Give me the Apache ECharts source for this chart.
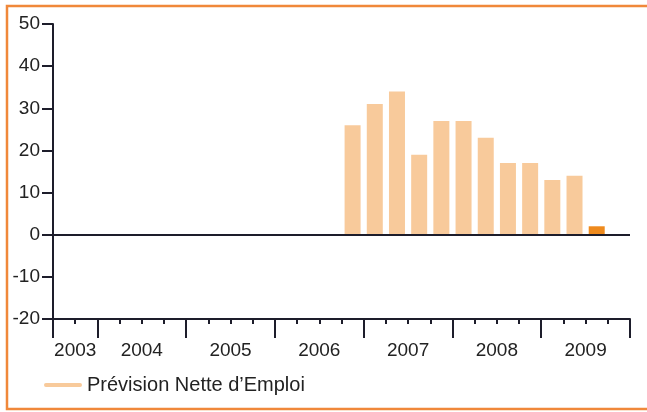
<!DOCTYPE html>
<html>
<head>
<meta charset="utf-8">
<script src="https://cdn.jsdelivr.net/npm/echarts@6/dist/echarts.min.js"></script>
<style>
  html, body { margin: 0; padding: 0; background: #fff; }
  #chart { width: 647px; height: 412px; }
</style>
</head>
<body>
<div id="chart"></div>
<script>
// quarters from 2003 T3 to 2009 T4
const quarters = [
  '2003T3', '2003T4',
  '2004T1', '2004T2', '2004T3', '2004T4',
  '2005T1', '2005T2', '2005T3', '2005T4',
  '2006T1', '2006T2', '2006T3', '2006T4',
  '2007T1', '2007T2', '2007T3', '2007T4',
  '2008T1', '2008T2', '2008T3', '2008T4',
  '2009T1', '2009T2', '2009T3', '2009T4'
];
// Prévision Nette d'Emploi (%)
const netValues = [
  null, null,
  null, null, null, null,
  null, null, null, null,
  null, null, null, 26,
  31, 34, 19, 27,
  27, 23, 17, 17,
  13, 14, null, null
];
// latest quarter, highlighted
const latestValues = [
  null, null,
  null, null, null, null,
  null, null, null, null,
  null, null, null, null,
  null, null, null, null,
  null, null, null, null,
  null, null, 2, null
];
const years = ['2003', '2004', '2005', '2006', '2007', '2008', '2009'];
const yearBounds = [0, 2, 6, 10, 14, 18, 22, 26]; // quarter index where each year starts
const yearCenters = [1, 4, 8, 12, 16, 20, 24];

const ink = '#1d1d2b';
const textColor = '#222';
const font = 'Liberation Sans';
const seriesName = 'Prévision Nette d’Emploi';

const chart = echarts.init(document.getElementById('chart'));
chart.setOption({
  animation: false,
  textStyle: { fontFamily: font },
  grid: { left: 53, right: 17, top: 24, bottom: 93 },
  legend: {
    data: [seriesName],
    left: 39,
    top: 370,
    icon: 'path://M2,0 L38,0 A2,2 0 0 1 38,4 L2,4 A2,2 0 0 1 2,0 Z',
    itemWidth: 38,
    itemHeight: 4,
    textStyle: { fontSize: 20, color: textColor, fontFamily: font, padding: [0, 0, 0, 0] }
  },
  xAxis: [
    {
      type: 'category',
      data: quarters,
      boundaryGap: true,
      position: 'bottom',
      axisLine: { onZero: false, lineStyle: { color: ink, width: 2 } },
      axisTick: { show: true, interval: 0, length: 5, lineStyle: { color: ink, width: 2 } },
      axisLabel: { show: false, interval: 0 },
      splitLine: { show: false }
    },
    {
      type: 'value',
      min: 0,
      max: 26,
      position: 'bottom',
      axisLine: { show: false, onZero: false },
      axisTick: {
        show: true,
        length: 19,
        customValues: yearBounds,
        lineStyle: { color: ink, width: 2 }
      },
      axisLabel: {
        show: true,
        customValues: yearCenters,
        margin: 22,
        fontSize: 19,
        color: textColor,
        formatter: v => years[yearCenters.indexOf(v)]
      },
      splitLine: { show: false }
    }
  ],
  yAxis: {
    type: 'value',
    min: -20,
    max: 50,
    interval: 10,
    axisLine: { show: true, lineStyle: { color: ink, width: 2 } },
    axisTick: { show: true, length: 11, lineStyle: { color: ink, width: 2 } },
    axisLabel: { margin: 13, fontSize: 19, color: textColor },
    splitLine: { show: false }
  },
  series: [
    {
      name: seriesName,
      type: 'bar',
      xAxisIndex: 0,
      data: netValues,
      barWidth: 16,
      barGap: '-100%',
      itemStyle: { color: '#F8CA9B' },
      markLine: {
        silent: true,
        symbol: ['none', 'none'],
        label: { show: false },
        lineStyle: { color: ink, width: 2, type: 'solid' },
        data: [{ yAxis: 0 }]
      }
    },
    {
      name: 'Dernière prévision',
      type: 'bar',
      xAxisIndex: 0,
      data: latestValues,
      barWidth: 16,
      barGap: '-100%',
      itemStyle: { color: '#EE8A1D' }
    }
  ],
  graphic: [
    {
      type: 'polyline',
      silent: true,
      shape: { points: [[647, 6], [7, 6], [7, 409], [647, 409]] },
      style: { stroke: '#F0883A', lineWidth: 2.5, fill: null }
    }
  ]
});
</script>
</body>
</html>
